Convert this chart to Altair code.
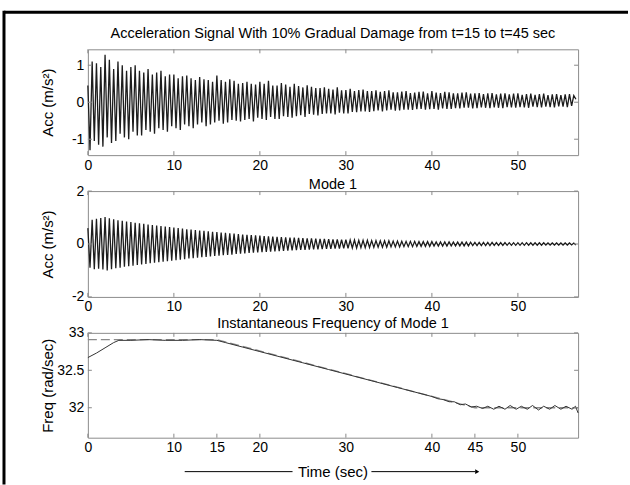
import altair as alt
import pandas as pd
import numpy as np

# ---------------- data ----------------
STEP = 0.25  # seconds between listed extremes

# Acceleration signal: successive extremes, 4 per second (t = 0 .. 56.75 s)
acc_signal = [
    0.45, -1.30, 1.10, -1.05,
    1.05, -1.15, 0.95, -1.20,
    1.28, -0.95, 1.15, -1.10,
    0.90, -1.05, 1.10, -0.85,
    1.00, -0.95, 0.85, -1.00,
    0.95, -0.80, 1.00, -0.90,
    0.85, -0.90, 0.80, -0.75,
    0.90, -0.80, 0.75, -0.85,
    0.80, -0.70, 0.85, -0.75,
    0.70, -0.80, 0.75, -0.65,
    0.75, -0.70, 0.65, -0.75,
    0.70, -0.60, 0.72, -0.65,
    0.65, -0.70, 0.60, -0.60,
    0.68, -0.55, 0.62, -0.65,
    0.60, -0.60, 0.55, -0.55,
    0.72, -0.50, 0.60, -0.58,
    0.55, -0.55, 0.62, -0.48,
    0.58, -0.50, 0.50, -0.52,
    0.52, -0.48, 0.55, -0.45,
    0.50, -0.52, 0.48, -0.42,
    0.55, -0.45, 0.50, -0.48,
    0.58, -0.40, 0.45, -0.45,
    0.45, -0.45, 0.52, -0.38,
    0.48, -0.40, 0.42, -0.42,
    0.50, -0.38, 0.44, -0.35,
    0.40, -0.40, 0.46, -0.32,
    0.42, -0.34, 0.38, -0.36,
    0.38, -0.32, 0.40, -0.30,
    0.36, -0.30, 0.34, -0.33,
    0.40, -0.28, 0.32, -0.30,
    0.33, -0.30, 0.36, -0.26,
    0.30, -0.27, 0.33, -0.25,
    0.34, -0.25, 0.30, -0.26,
    0.30, -0.24, 0.32, -0.22,
    0.28, -0.25, 0.30, -0.22,
    0.32, -0.20, 0.27, -0.23,
    0.27, -0.22, 0.29, -0.20,
    0.30, -0.20, 0.25, -0.21,
    0.26, -0.19, 0.28, -0.18,
    0.29, -0.20, 0.24, -0.19,
    0.30, -0.18, 0.26, -0.20,
    0.25, -0.17, 0.28, -0.18,
    0.27, -0.18, 0.24, -0.16,
    0.24, -0.17, 0.26, -0.15,
    0.27, -0.15, 0.23, -0.17,
    0.24, -0.16, 0.25, -0.14,
    0.22, -0.15, 0.24, -0.16,
    0.25, -0.14, 0.21, -0.15,
    0.23, -0.16, 0.24, -0.13,
    0.21, -0.14, 0.23, -0.15,
    0.24, -0.13, 0.20, -0.14,
    0.22, -0.15, 0.23, -0.12,
    0.20, -0.13, 0.22, -0.14,
    0.23, -0.12, 0.19, -0.13,
    0.21, -0.14, 0.22, -0.11,
    0.19, -0.12, 0.21, -0.13,
    0.22, -0.10, 0.18, 0.08,
]

# Mode 1 signal: successive extremes, 4 per second
mode1_signal = [
    0.60, -0.90, 0.92, -0.95,
    0.95, -0.93, 0.98, -0.96,
    1.02, -1.00, 0.97, -0.95,
    0.93, -0.92, 0.90, -0.90,
    0.88, -0.86, 0.85, -0.84,
    0.83, -0.82, 0.80, -0.79,
    0.78, -0.77, 0.76, -0.75,
    0.74, -0.73, 0.72, -0.71,
    0.70, -0.69, 0.68, -0.67,
    0.66, -0.65, 0.64, -0.63,
    0.62, -0.61, 0.60, -0.59,
    0.58, -0.57, 0.56, -0.55,
    0.55, -0.54, 0.53, -0.52,
    0.51, -0.50, 0.50, -0.49,
    0.48, -0.47, 0.46, -0.45,
    0.45, -0.44, 0.43, -0.42,
    0.42, -0.41, 0.40, -0.40,
    0.39, -0.38, 0.38, -0.37,
    0.36, -0.36, 0.35, -0.34,
    0.34, -0.33, 0.33, -0.32,
    0.32, -0.31, 0.30, -0.30,
    0.29, -0.29, 0.28, -0.28,
    0.27, -0.27, 0.26, -0.26,
    0.25, -0.25, 0.24, -0.24,
    0.24, -0.23, 0.23, -0.22,
    0.22, -0.22, 0.21, -0.21,
    0.21, -0.20, 0.20, -0.20,
    0.19, -0.19, 0.19, -0.18,
    0.18, -0.18, 0.17, -0.17,
    0.17, -0.17, 0.16, -0.16,
    0.16, -0.16, 0.15, -0.15,
    0.15, -0.15, 0.14, -0.14,
    0.14, -0.14, 0.14, -0.13,
    0.13, -0.13, 0.13, -0.12,
    0.12, -0.12, 0.12, -0.12,
    0.12, -0.11, 0.11, -0.11,
    0.11, -0.11, 0.10, -0.10,
    0.10, -0.10, 0.10, -0.10,
    0.10, -0.09, 0.09, -0.09,
    0.09, -0.09, 0.09, -0.09,
    0.09, -0.08, 0.08, -0.08,
    0.08, -0.08, 0.08, -0.08,
    0.08, -0.07, 0.07, -0.07,
    0.07, -0.07, 0.07, -0.07,
    0.07, -0.07, 0.07, -0.06,
    0.06, -0.06, 0.06, -0.06,
    0.06, -0.06, 0.06, -0.06,
    0.06, -0.055, 0.055, -0.055,
    0.055, -0.055, 0.055, -0.05,
    0.05, -0.05, 0.05, -0.05,
    0.05, -0.05, 0.05, -0.05,
    0.05, -0.045, 0.045, -0.045,
    0.045, -0.045, 0.045, -0.045,
    0.045, -0.04, 0.04, -0.04,
    0.04, -0.04, 0.04, -0.04,
    0.04, -0.04, 0.04, -0.04,
    0.04, -0.035, 0.035, -0.035,
]

# Identified instantaneous frequency of mode 1 (solid)
freq_time = [0, 1, 2, 3, 3.6, 5, 7, 9, 11, 13, 15, 16, 18, 20, 22, 25, 28, 30, 33, 36,
             38, 40, 40.7, 41.3, 42.0, 42.6, 43.3, 43.9, 44.6, 45.2, 45.9, 46.5, 47.2,
             47.8, 48.5, 49.1, 49.8, 50.4, 51.1, 51.7, 52.4, 53.0, 53.7, 54.3, 55.0,
             55.6, 56.3, 56.7, 57]
freq_ident = [32.67, 32.73, 32.80, 32.87, 32.90, 32.90, 32.91, 32.90, 32.90, 32.91,
              32.90, 32.87, 32.81, 32.75, 32.69, 32.60, 32.51, 32.45, 32.36, 32.27,
              32.21, 32.15, 32.12, 32.11, 32.08, 32.08, 32.04, 32.05, 32.01, 32.02,
              31.99, 32.02, 31.98, 32.02, 31.98, 32.03, 31.98, 32.02, 31.98, 32.03,
              31.97, 32.02, 31.98, 32.03, 31.98, 32.02, 31.98, 32.02, 31.93]
# True frequency (dashed)
true_time = [0, 15, 45, 57]
freq_true = [32.91, 32.91, 32.0, 32.0]

x_ticks = [0, 10, 20, 30, 40, 50]
x_ticks3 = [0, 10, 15, 20, 30, 40, 45, 50]
y_ticks1 = [-1, 0, 1]
y_ticks2 = [-2, 0, 2]
y_ticks3 = [32, 32.5, 33]

title1 = "Acceleration Signal With 10% Gradual Damage from t=15 to t=45 sec"
title2 = "Mode 1"
title3 = "Instantaneous Frequency of Mode 1"
ytitle_acc = "Acc (m/s²)"
ytitle_freq = "Freq (rad/sec)"
xtitle = "Time (sec)"

# ---------------- chart ----------------
W = 491
H1, H2, H3 = 106, 106, 105
FONT = "Liberation Sans"
X_DOMAIN = [0, 57]
TICK_C = "#8a8a8a"
one = pd.DataFrame({"k": [0]})

df1 = pd.DataFrame({"t": np.arange(len(acc_signal)) * STEP, "a": acc_signal})
df2 = pd.DataFrame({"t": np.arange(len(mode1_signal)) * STEP, "a": mode1_signal})
df3 = pd.DataFrame({"t": freq_time, "a": freq_ident})
df3t = pd.DataFrame({"t": true_time, "a": freq_true})


def x_axis(vals):
    return alt.Axis(values=vals, labelFontSize=14, labelFont=FONT, labelColor="black",
                    labelPadding=3, tickSize=0, domain=False, grid=False, title=None,
                    labelFlush=False, labelOverlap=False, labelExpr="datum.value + ''")


def y_axis(vals, title, H):
    return alt.Axis(values=vals, labelFontSize=14, labelFont=FONT, labelColor="black",
                    labelPadding=4, tickSize=0, domain=False, grid=False,
                    labelOverlap=False, labelExpr="datum.value + ''",
                    title=title, titleFont=FONT, titleFontSize=15, titleFontWeight="normal",
                    titleColor="black", titleX=-40, titleY=H / 2, titleAngle=270,
                    titleAlign="center", titleBaseline="middle")


def panel(base_layers, xt, yt, ytitle, H, xs, ys, extra):
    xa = x_axis(xt)
    ya = y_axis(yt, ytitle, H)
    layers = []
    for df, mark in base_layers:
        layers.append(mark.encode(
            x=alt.X("t:Q", scale=xs, axis=xa),
            y=alt.Y("a:Q", scale=ys, axis=ya)).properties(data=df))
    dx = pd.DataFrame({"t": xt})
    dy = pd.DataFrame({"a": yt})
    xe = alt.X("t:Q", scale=xs, axis=xa)
    ye = alt.Y("a:Q", scale=ys, axis=ya)
    layers += [
        alt.Chart(dx).mark_rule(color=TICK_C).encode(x=xe, y=alt.value(H - 4), y2=alt.value(H)),
        alt.Chart(dx).mark_rule(color=TICK_C).encode(x=xe, y=alt.value(0), y2=alt.value(4)),
        alt.Chart(dy).mark_rule(color=TICK_C).encode(y=ye, x=alt.value(0), x2=alt.value(4)),
        alt.Chart(dy).mark_rule(color=TICK_C).encode(y=ye, x=alt.value(W - 4), x2=alt.value(W)),
    ]
    layers += extra
    return alt.layer(*layers).properties(width=W, height=H)


def title_mark(text, y, size=14.5):
    return alt.Chart(one).mark_text(text=text, font=FONT, fontSize=size, align="center",
                                    baseline="middle", color="black").encode(
        x=alt.value(W / 2), y=alt.value(y))


xs = alt.Scale(domain=X_DOMAIN, nice=False, zero=False)

# Panel 1
ys1 = alt.Scale(domain=[-1.43, 1.43], nice=False, zero=False)
frame_top = alt.Chart(one).mark_rule(color="black", strokeWidth=3).encode(
    x=alt.value(-84), x2=alt.value(541), y=alt.value(-37))
frame_left = alt.Chart(one).mark_rule(color="black", strokeWidth=3).encode(
    x=alt.value(-84), y=alt.value(-38.5), y2=alt.value(436))
p1 = panel([(df1, alt.Chart().mark_line(color="#1c1c1c", strokeWidth=1.3))],
           x_ticks, y_ticks1, ytitle_acc, H1, xs, ys1,
           [title_mark(title1, -15), frame_top, frame_left])

# Panel 2
ys2 = alt.Scale(domain=[-2, 2], nice=False, zero=False)
p2 = panel([(df2, alt.Chart().mark_line(color="#1c1c1c", strokeWidth=1.3))],
           x_ticks, y_ticks2, ytitle_acc, H2, xs, ys2,
           [title_mark(title2, -6)])

# Panel 3
ys3 = alt.Scale(domain=[31.6, 33.0], nice=False, zero=False)
arrow_l = alt.Chart(one).mark_rule(color="black", strokeWidth=1).encode(
    x=alt.value(97), x2=alt.value(205), y=alt.value(139))
arrow_r = alt.Chart(one).mark_rule(color="black", strokeWidth=1).encode(
    x=alt.value(284), x2=alt.value(388), y=alt.value(139))
arrow_head = alt.Chart(one).mark_point(shape="triangle-right", filled=True, color="black",
                                       size=22, opacity=1).encode(
    x=alt.value(390), y=alt.value(139))
p3 = panel([(df3t, alt.Chart().mark_line(color="#8a8a8a", strokeWidth=1.3, strokeDash=[9, 4])),
            (df3, alt.Chart().mark_line(color="#333333", strokeWidth=1))],
           x_ticks3, y_ticks3, ytitle_freq, H3, xs, ys3,
           [title_mark(title3, -8.5), title_mark(xtitle, 139, 15),
            arrow_l, arrow_r, arrow_head])

chart = alt.vconcat(p1, p2, p3, spacing=36, bounds="flush").properties(
    padding={"left": 2, "top": 8, "right": 0, "bottom": 0},
    background="white",
).configure_view(stroke="#8c8c8c", strokeWidth=1)

chart.save("out.html", embed_options={"renderer": "svg", "actions": False})
